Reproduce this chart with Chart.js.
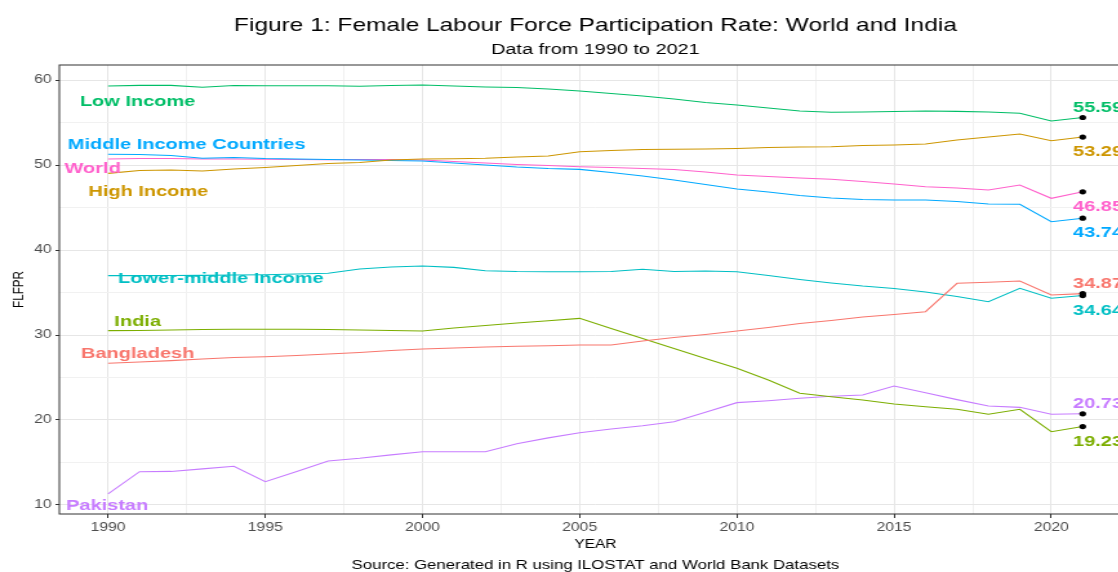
<!DOCTYPE html>
<html>
<head>
<meta charset="utf-8">
<title>Female Labour Force Participation Rate: World and India</title>
<script src="https://cdn.jsdelivr.net/npm/chart.js@4.4.1/dist/chart.umd.min.js"></script>
<style>
  html, body { margin: 0; padding: 0; width: 1118px; height: 572px; overflow: hidden; background: #ffffff; }
  /* the figure is drawn narrow and widened horizontally */
  #wrap { position: absolute; left: 0; top: 0; width: 923px; height: 572px; transform: scaleX(1.29); transform-origin: 0 0; }
</style>
</head>
<body>
<div id="wrap"><canvas id="flfpr" width="923" height="572"></canvas></div>
<script>
// Female labour force participation rate (%), 1990-2021
const years = [1990, 1991, 1992, 1993, 1994, 1995, 1996, 1997, 1998, 1999, 2000, 2001, 2002, 2003, 2004, 2005,
               2006, 2007, 2008, 2009, 2010, 2011, 2012, 2013, 2014, 2015, 2016, 2017, 2018, 2019, 2020, 2021];

const bangladesh   = [26.67, 26.82, 26.98, 27.18, 27.35, 27.45, 27.59, 27.76, 27.94, 28.18, 28.35, 28.47, 28.59, 28.67, 28.74, 28.82,
                      28.82, 29.29, 29.71, 30.06, 30.47, 30.88, 31.35, 31.71, 32.12, 32.41, 32.74, 36.08, 36.20, 36.35, 34.71, 34.87];
const highIncome   = [49.02, 49.35, 49.41, 49.29, 49.53, 49.71, 49.94, 50.18, 50.29, 50.59, 50.71, 50.74, 50.79, 50.94, 51.06, 51.56,
                      51.71, 51.82, 51.85, 51.88, 51.94, 52.06, 52.12, 52.15, 52.29, 52.35, 52.47, 52.94, 53.29, 53.65, 52.86, 53.29];
const india        = [30.51, 30.53, 30.59, 30.65, 30.67, 30.67, 30.67, 30.65, 30.59, 30.53, 30.47, 30.82, 31.12, 31.41, 31.68, 31.96,
                      30.76, 29.59, 28.41, 27.24, 26.08, 24.71, 23.14, 22.74, 22.35, 21.88, 21.56, 21.26, 20.67, 21.26, 18.62, 19.23];
const lowIncome    = [59.29, 59.37, 59.37, 59.14, 59.35, 59.33, 59.33, 59.33, 59.26, 59.35, 59.41, 59.29, 59.18, 59.12, 58.94, 58.71,
                      58.41, 58.12, 57.76, 57.35, 57.06, 56.71, 56.35, 56.20, 56.24, 56.29, 56.35, 56.31, 56.24, 56.08, 55.18, 55.59];
const lowerMiddle  = [36.98, 36.98, 37.00, 37.02, 37.06, 37.09, 37.18, 37.26, 37.76, 38.00, 38.12, 37.96, 37.56, 37.47, 37.45, 37.45,
                      37.47, 37.73, 37.47, 37.53, 37.45, 37.00, 36.53, 36.12, 35.76, 35.47, 35.06, 34.53, 33.92, 35.49, 34.32, 34.64];
const middleIncome = [51.26, 51.24, 51.12, 50.79, 50.88, 50.76, 50.71, 50.65, 50.59, 50.53, 50.47, 50.24, 50.00, 49.76, 49.59, 49.49,
                      49.12, 48.71, 48.24, 47.71, 47.18, 46.82, 46.41, 46.12, 45.94, 45.88, 45.88, 45.71, 45.41, 45.38, 43.33, 43.74];
const pakistan     = [11.30, 13.92, 13.95, 14.25, 14.55, 12.74, 13.95, 15.18, 15.50, 15.90, 16.27, 16.27, 16.27, 17.20, 17.90, 18.50,
                      18.95, 19.33, 19.80, 20.90, 22.04, 22.27, 22.55, 22.80, 22.94, 24.00, 23.20, 22.40, 21.65, 21.49, 20.67, 20.73];
const world        = [50.71, 50.76, 50.76, 50.71, 50.71, 50.67, 50.65, 50.62, 50.65, 50.65, 50.59, 50.41, 50.24, 50.06, 49.94, 49.80,
                      49.71, 49.59, 49.47, 49.18, 48.82, 48.65, 48.47, 48.32, 48.06, 47.76, 47.45, 47.29, 47.06, 47.65, 46.08, 46.85];

const seriesNames  = ['Bangladesh', 'High Income', 'India', 'Low Income', 'Lower-middle Income',
                      'Middle Income Countries', 'Pakistan', 'World'];
const seriesValues = [bangladesh, highIncome, india, lowIncome, lowerMiddle, middleIncome, pakistan, world];

const xMajorTicks = [1990, 1995, 2000, 2005, 2010, 2015, 2020];
const xMinorTicks = [1992.5, 1997.5, 2002.5, 2007.5, 2012.5, 2017.5, 2022.5];
const yMajorTicks = [10, 20, 30, 40, 50, 60];
const yMinorTicks = [15, 25, 35, 45, 55];

const titleText    = 'Figure 1: Female Labour Force Participation Rate: World and India';
const subtitleText = 'Data from 1990 to 2021';
const xTitleText   = 'YEAR';
const yTitleText   = 'FLFPR';
const captionText  = 'Source: Generated in R using ILOSTAT and World Bank Datasets';

// ---- styling ----
const palette = {
  'Bangladesh': '#F8766D', 'High Income': '#CD9600', 'India': '#7CAE00', 'Low Income': '#00BE67',
  'Lower-middle Income': '#00BFC4', 'Middle Income Countries': '#00A9FF', 'Pakistan': '#C77CFF', 'World': '#FF61CC'
};
// where each series name sits (data units) and on which side of the last point its value goes
const nameAnchor = {
  'Low Income': [1990.94, 57.55], 'Middle Income Countries': [1992.50, 52.55], 'World': [1989.51, 49.67],
  'High Income': [1991.28, 47.06], 'Lower-middle Income': [1993.59, 36.76], 'India': [1990.94, 31.76],
  'Bangladesh': [1990.94, 28.0], 'Pakistan': [1989.97, 10.06]
};
const valueSide = {
  'Low Income': -1, 'High Income': 1, 'World': 1, 'Middle Income Countries': 1,
  'Bangladesh': -1, 'Lower-middle Income': 1, 'Pakistan': -1, 'India': 1
};

const FONT = '"Liberation Sans", Arial, Helvetica, sans-serif';
const W = 923, H = 572;
const PANEL = { left: 46, right: 877.1, top: 65, bottom: 514 };
const X_AXIS_H = 30;

const allX = xMajorTicks.concat(xMinorTicks).sort((a, b) => a - b);
const allY = yMajorTicks.concat(yMinorTicks).sort((a, b) => a - b);

const datasets = seriesNames.map((name, i) => ({
  label: name,
  data: years.map((yr, j) => ({ x: yr, y: seriesValues[i][j] })),
  borderColor: palette[name],
  backgroundColor: palette[name],
  borderWidth: 1.1,
  tension: 0,
  fill: false,
  pointRadius: ctx => ctx.dataIndex === years.length - 1 ? 2.6 : 0,
  pointBackgroundColor: '#000000',
  pointBorderColor: '#000000',
  pointBorderWidth: 0,
  pointHoverRadius: 0
}));

function textAt(ctx, text, x, capMid, size, weight, color, align) {
  ctx.font = weight + ' ' + size + 'px ' + FONT;
  ctx.fillStyle = color;
  ctx.textAlign = align;
  ctx.textBaseline = 'alphabetic';
  ctx.fillText(text, x, capMid + size * 0.358);
}

const panelBorder = {
  id: 'panelBorder',
  afterDatasetsDraw(chart) {
    const { ctx, chartArea: a } = chart;
    ctx.save();
    ctx.strokeStyle = '#333333';
    ctx.lineWidth = 1;
    ctx.strokeRect(a.left, a.top, a.right - a.left, a.bottom - a.top);
    ctx.restore();
  }
};

const annotations = {
  id: 'annotations',
  afterDraw(chart) {
    const { ctx, chartArea: a, scales: { x, y } } = chart;
    const cx = (a.left + a.right) / 2;
    ctx.save();
    // titles and caption
    textAt(ctx, titleText, cx, 24.3, 19, 'normal', '#000000', 'center');
    textAt(ctx, subtitleText, cx, 48.2, 15.4, 'normal', '#000000', 'center');
    textAt(ctx, xTitleText, cx, 543.8, 12, 'normal', '#000000', 'center');
    textAt(ctx, captionText, cx, 564, 13, 'normal', '#000000', 'center');
    ctx.save();
    ctx.translate(18, (a.top + a.bottom) / 2);
    ctx.rotate(-Math.PI / 2);
    ctx.font = 'normal 11.7px ' + FONT;
    ctx.fillStyle = '#000000';
    ctx.textAlign = 'center';
    ctx.textBaseline = 'alphabetic';
    ctx.fillText(yTitleText, 0, 0);
    ctx.restore();

    // series names and latest values
    const last = years.length - 1;
    seriesNames.forEach((name, i) => {
      const col = palette[name];
      const [ax, ay] = nameAnchor[name];
      textAt(ctx, name, x.getPixelForValue(ax), y.getPixelForValue(ay), 15.5, 'bold', col, 'center');
      const v = seriesValues[i][last];
      const px = x.getPixelForValue(years[last]);
      const py = y.getPixelForValue(v);
      const off = valueSide[name] < 0 ? -11 : 13.5;
      textAt(ctx, v.toFixed(2), px - 7.5, py + off, 15.5, 'bold', col, 'left');
    });
    ctx.restore();
  }
};

const tickFont = { family: FONT, size: 12.2 };
const isMajorX = v => xMajorTicks.includes(v);
const isMajorY = v => yMajorTicks.includes(v);

new Chart(document.getElementById('flfpr'), {
  type: 'line',
  data: { datasets },
  options: {
    responsive: false,
    animation: false,
    devicePixelRatio: 1,
    events: [],
    layout: { padding: { top: PANEL.top, left: 0, right: W - PANEL.right, bottom: H - PANEL.bottom - X_AXIS_H } },
    plugins: { legend: { display: false }, tooltip: { enabled: false }, title: { display: false } },
    scales: {
      x: {
        type: 'linear',
        min: 1988.45,
        max: 2022.55,
        afterBuildTicks: s => { s.ticks = allX.map(v => ({ value: v })); },
        afterFit: s => { s.height = X_AXIS_H; },
        border: { display: false },
        grid: {
          color: c => (c.tick && isMajorX(c.tick.value)) ? '#E6E6E6' : '#F1F1F1',
          lineWidth: 1,
          drawTicks: true,
          tickLength: 4,
          tickColor: c => (c.tick && isMajorX(c.tick.value)) ? '#333333' : 'rgba(0,0,0,0)',
          tickWidth: 1
        },
        ticks: {
          autoSkip: false, maxRotation: 0, padding: 2, color: '#4D4D4D', font: tickFont,
          callback: v => isMajorX(v) ? String(v) : ''
        }
      },
      y: {
        type: 'linear',
        min: 8.941,
        max: 61.765,
        afterBuildTicks: s => { s.ticks = allY.map(v => ({ value: v })); },
        afterFit: s => { s.width = PANEL.left; },
        border: { display: false },
        grid: {
          color: c => (c.tick && isMajorY(c.tick.value)) ? '#E6E6E6' : '#F1F1F1',
          lineWidth: 1,
          drawTicks: true,
          tickLength: 3,
          tickColor: c => (c.tick && isMajorY(c.tick.value)) ? '#333333' : 'rgba(0,0,0,0)',
          tickWidth: 1
        },
        ticks: {
          autoSkip: false, padding: 3, color: '#4D4D4D', font: tickFont,
          callback: v => isMajorY(v) ? String(v) : ''
        }
      }
    }
  },
  plugins: [panelBorder, annotations]
});
</script>
</body>
</html>
